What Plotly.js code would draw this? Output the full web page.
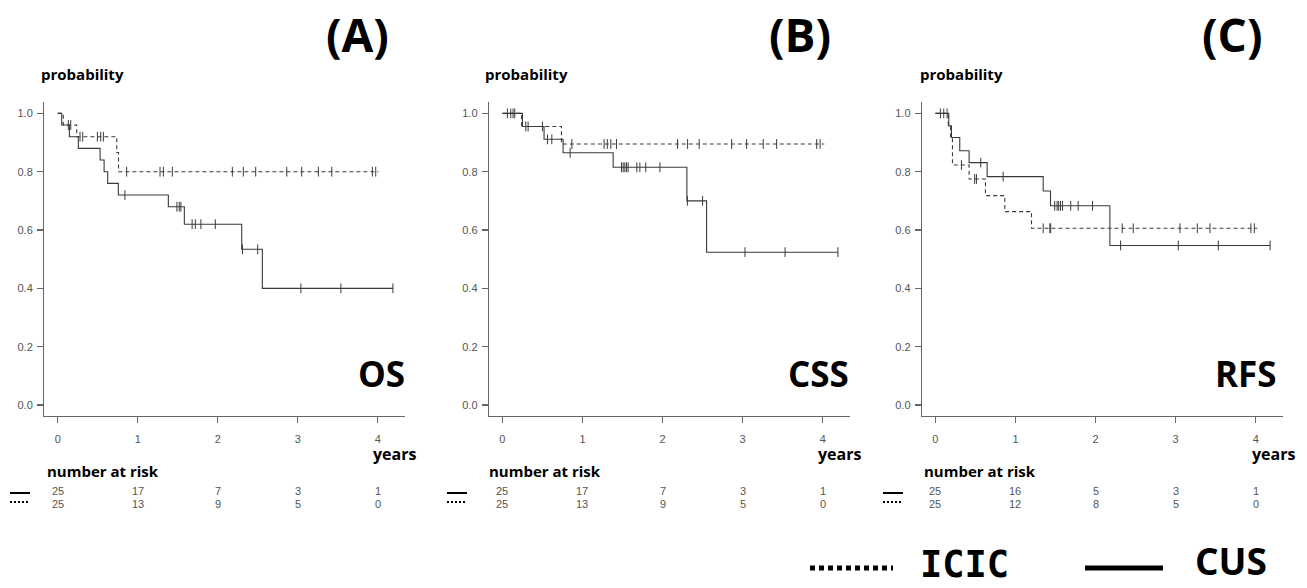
<!DOCTYPE html>
<html><head><meta charset="utf-8">
<script src="https://cdn.plot.ly/plotly-3.0.1.min.js"></script>
<style>html,body{margin:0;padding:0;background:#fff}#c{width:1307px;height:588px}</style>
</head><body><div id="c"></div>
<script>
// ---------- data (years, survival probability) ----------
const panelNames = ["OS", "CSS", "RFS"];
const panelLetters = ["(A)", "(B)", "(C)"];

// OS
const osCusT = [0, 0.05, 0.146, 0.258, 0.53, 0.58, 0.625, 0.758, 1.383, 1.583, 2.30, 2.558, 4.19];
const osCusS = [1.0, 0.96, 0.92, 0.88, 0.84, 0.80, 0.76, 0.72, 0.68, 0.62, 0.534, 0.40, 0.40];
const osCusCens = [0.84, 1.49, 1.52, 1.54, 1.68, 1.72, 1.79, 1.97, 2.31, 2.50, 3.04, 3.54, 4.19];
const osIcicT = [0, 0.07, 0.2375, 0.738, 0.76, 4.01];
const osIcicS = [1.0, 0.96, 0.92, 0.866, 0.80, 0.80];
const osIcicCens = [0.133, 0.163, 0.279, 0.3125, 0.496, 0.5375, 0.571, 0.862, 1.279, 1.321, 1.433, 2.183, 2.32, 2.475, 2.863, 3.05, 3.258, 3.425, 3.933, 3.975];

// CSS
const cssCusT = [0, 0.25, 0.52, 0.758, 1.383, 2.304, 2.55, 4.19];
const cssCusS = [1.0, 0.955, 0.911, 0.865, 0.815, 0.70, 0.524, 0.524];
const cssCusCens = [0.0625, 0.104, 0.133, 0.154, 0.292, 0.321, 0.5, 0.5625, 0.617, 0.846, 1.4875, 1.508, 1.529, 1.55, 1.57, 1.679, 1.717, 1.79, 1.967, 2.31, 2.5, 3.03, 3.53, 4.19];
const cssIcicT = [0, 0.24, 0.7375, 4.02];
const cssIcicS = [1.0, 0.955, 0.895, 0.895];
const cssIcicCens = [0.867, 1.27, 1.31, 1.354, 1.425, 2.1875, 2.3125, 2.458, 2.8625, 3.05, 3.258, 3.425, 3.925, 3.967];

// RFS
const rfsCusT = [0, 0.167, 0.2, 0.304, 0.421, 0.646, 1.346, 1.4375, 2.179, 4.18];
const rfsCusS = [1.0, 0.957, 0.917, 0.872, 0.831, 0.783, 0.734, 0.683, 0.547, 0.547];
const rfsCusCens = [0.0625, 0.104, 0.567, 0.846, 1.49, 1.52, 1.54, 1.5625, 1.5875, 1.69, 1.783, 1.9625, 2.3125, 3.033, 3.533, 4.18];
const rfsIcicT = [0, 0.16, 0.19, 0.213, 0.421, 0.625, 0.867, 1.2, 4.02];
const rfsIcicS = [1.0, 0.96, 0.92, 0.823, 0.775, 0.718, 0.663, 0.606, 0.606];
const rfsIcicCens = [0.146, 0.325, 0.49, 0.5125, 1.346, 1.429, 1.44, 2.333, 2.471, 3.054, 3.271, 3.429, 3.94, 3.983];

// number at risk
const riskTimes = [0, 1, 2, 3, 4];
const osRiskCus = [25, 17, 7, 3, 1];
const osRiskIcic = [25, 13, 9, 5, 0];
const cssRiskCus = [25, 17, 7, 3, 1];
const cssRiskIcic = [25, 13, 9, 5, 0];
const rfsRiskCus = [25, 16, 5, 3, 1];
const rfsRiskIcic = [25, 12, 8, 5, 0];

const yTicks = [0, 0.2, 0.4, 0.6, 0.8, 1.0];
const xTicks = [0, 1, 2, 3, 4];

// ---------- helpers ----------
const W = 1307, H = 588;
const px = x => x / W;
const py = y => 1 - y / H;
function stepAt(T, S, t) {
  let v = S[0];
  for (let i = 0; i < T.length; i++) { if (T[i] <= t) v = S[i]; }
  return v;
}
const CLR = "#3a3a3a";
const panels = [
  {cusT: osCusT, cusS: osCusS, cusC: osCusCens, icT: osIcicT, icS: osIcicS, icC: osIcicCens, rc: osRiskCus, ri: osRiskIcic, dom: [44.3, 405]},
  {cusT: cssCusT, cusS: cssCusS, cusC: cssCusCens, icT: cssIcicT, icS: cssIcicS, icC: cssIcicCens, rc: cssRiskCus, ri: cssRiskIcic, dom: [489, 850]},
  {cusT: rfsCusT, cusS: rfsCusS, cusC: rfsCusCens, icT: rfsIcicT, icS: rfsIcicS, icC: rfsIcicCens, rc: rfsRiskCus, ri: rfsRiskIcic, dom: [922, 1283]}
];

const traces = [];
const layout = {
  width: W, height: H, margin: {l: 0, r: 0, t: 0, b: 0},
  paper_bgcolor: "#fff", plot_bgcolor: "#fff", showlegend: false,
  annotations: [], shapes: []
};
const boldFont = "Open Sans, Noto Sans, DejaVu Sans, sans-serif";
const tickFont = {family: "Liberation Sans, Arial, sans-serif", size: 11, color: "#555"};

panels.forEach((p, i) => {
  const sfx = i === 0 ? "" : String(i + 1);
  const xa = "x" + sfx, ya = "y" + sfx;
  // curves
  traces.push({x: p.icT, y: p.icS, xaxis: xa, yaxis: ya, mode: "lines", line: {shape: "hv", color: CLR, width: 1.1, dash: "4px,3px"}, hoverinfo: "skip"});
  traces.push({x: p.cusT, y: p.cusS, xaxis: xa, yaxis: ya, mode: "lines", line: {shape: "hv", color: CLR, width: 1.1}, hoverinfo: "skip"});
  traces.push({x: p.icC, y: p.icC.map(t => stepAt(p.icT, p.icS, t)), xaxis: xa, yaxis: ya, mode: "markers",
    marker: {symbol: "line-ns", size: 7, line: {width: 1, color: CLR}}, hoverinfo: "skip"});
  traces.push({x: p.cusC, y: p.cusC.map(t => stepAt(p.cusT, p.cusS, t)), xaxis: xa, yaxis: ya, mode: "markers",
    marker: {symbol: "line-ns", size: 7, line: {width: 1, color: CLR}}, hoverinfo: "skip"});

  const axCommon = {showline: true, linecolor: "#666", linewidth: 1.3, ticks: "outside", ticklen: 6, tickwidth: 1.3,
    tickcolor: "#666", showgrid: false, zeroline: false, tickfont: tickFont, fixedrange: true};
  layout["xaxis" + sfx] = Object.assign({}, axCommon, {domain: [px(p.dom[0]), px(p.dom[1])], range: [-0.1675, 4.341],
    anchor: ya, tickvals: xTicks, ticktext: xTicks.map(String), ticklabelstandoff: 6});
  layout["yaxis" + sfx] = Object.assign({}, axCommon, {domain: [py(416), py(101.7)], range: [-0.0377, 1.04],
    anchor: xa, tickvals: yTicks, ticktext: yTicks.map(v => v.toFixed(1)), ticklabelstandoff: 2});

  // panel letter
  layout.annotations.push({xref: "paper", yref: "paper", x: px([358, 800, 1232][i]), y: py(34), text: "<b>" + panelLetters[i] + "</b>",
    showarrow: false, xanchor: "center", yanchor: "middle", font: {family: boldFont, size: 46, color: "#000"}});
  // probability
  layout.annotations.push({xref: "paper", yref: "paper", x: px([39, 483, 918][i]), y: py(74), text: "<b>probability</b>",
    showarrow: false, xanchor: "left", yanchor: "middle", font: {family: boldFont, size: 15, color: "#000"}});
  // endpoint name
  layout.annotations.push({xref: "paper", yref: "paper", x: px([407, 851, 1279][i]), y: py(373), text: "<b>" + panelNames[i] + "</b>",
    showarrow: false, xanchor: "right", yanchor: "middle", font: {family: boldFont, size: 35, color: "#000"}});
  // years
  layout.annotations.push({xref: "paper", yref: "paper", x: px([418, 863, 1297][i]), y: py(454), text: "<b>years</b>",
    showarrow: false, xanchor: "right", yanchor: "middle", font: {family: boldFont, size: 16, color: "#000"}});
  // number at risk
  layout.annotations.push({xref: "paper", yref: "paper", x: px([45, 487, 922][i]), y: py(471), text: "<b>number at risk</b>",
    showarrow: false, xanchor: "left", yanchor: "middle", font: {family: boldFont, size: 15, color: "#000"}});
  // risk numbers
  riskTimes.forEach((t, k) => {
    layout.annotations.push({xref: xa, yref: "paper", x: t, y: py(491), text: String(p.rc[k]), showarrow: false,
      xanchor: "center", yanchor: "middle", font: tickFont});
    layout.annotations.push({xref: xa, yref: "paper", x: t, y: py(504), text: String(p.ri[k]), showarrow: false,
      xanchor: "center", yanchor: "middle", font: tickFont});
  });
  // small legend lines by risk table
  const lx = [10, 447, 883][i];
  layout.shapes.push({type: "line", xref: "paper", yref: "paper", x0: px(lx), x1: px(lx + 20), y0: py(493), y1: py(493),
    line: {color: "#000", width: 2}});
  layout.shapes.push({type: "line", xref: "paper", yref: "paper", x0: px(lx), x1: px(lx + 20), y0: py(502), y1: py(502),
    line: {color: "#000", width: 2, dash: "2px,2px"}});
});

// bottom legend
layout.shapes.push({type: "line", xref: "paper", yref: "paper", x0: px(810), x1: px(893), y0: py(568), y1: py(568),
  line: {color: "#000", width: 5, dash: "5px,4px"}});
layout.shapes.push({type: "line", xref: "paper", yref: "paper", x0: px(1085), x1: px(1163), y0: py(568), y1: py(568),
  line: {color: "#000", width: 5}});
layout.annotations.push({xref: "paper", yref: "paper", x: px(918), y: 0, text: "<b>ICIC</b>", showarrow: false,
  xanchor: "left", yanchor: "bottom", font: {family: "DejaVu Sans Mono, monospace", size: 37, color: "#000"}});
layout.annotations.push({xref: "paper", yref: "paper", x: px(1193), y: 0, text: "<b>CUS</b>", showarrow: false,
  xanchor: "left", yanchor: "bottom", font: {family: boldFont, size: 37, color: "#000"}});

Plotly.newPlot("c", traces, layout, {staticPlot: true, displayModeBar: false});
</script></body></html>
